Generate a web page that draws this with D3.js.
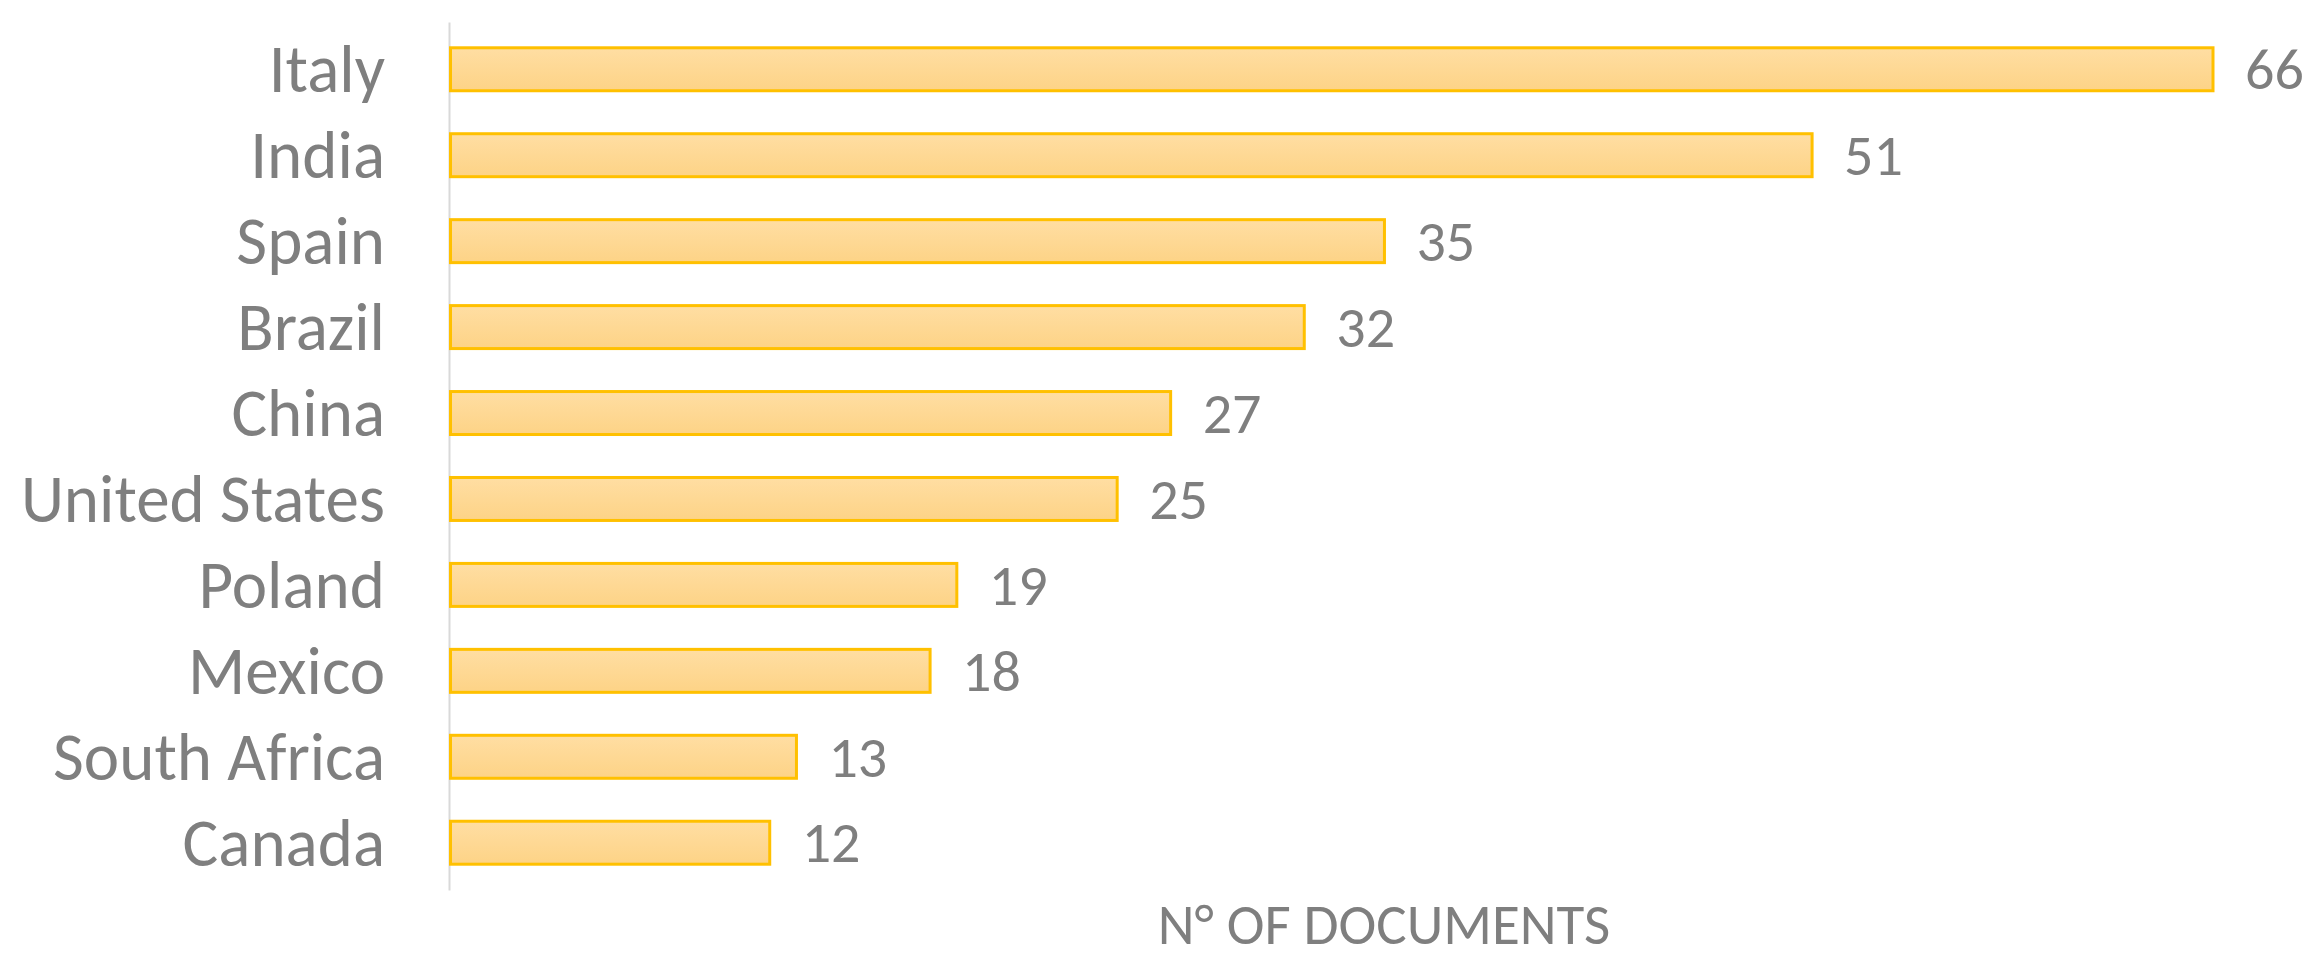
<!DOCTYPE html>
<html>
<head>
<meta charset="utf-8">
<script src="https://cdn.jsdelivr.net/npm/d3@7"></script>
<style>
  body { margin: 0; background: #fff; }
  text { font-family: Carlito, "Liberation Sans Narrow", "Open Sans", sans-serif; fill: #7f7f7f; }
</style>
</head>
<body>
<svg width="2324" height="959"></svg>
<script>
const countries = ['Italy', 'India', 'Spain', 'Brazil', 'China', 'United States', 'Poland', 'Mexico', 'South Africa', 'Canada']
const documents = [66, 51, 35, 32, 27, 25, 19, 18, 13, 12]
const axisTitle = 'N° OF DOCUMENTS'

const data = countries.map((c, i) => ({ country: c, value: documents[i] }))

const svg = d3.select('svg')

const x = d3.scaleLinear().domain([0, 66]).range([449, 2213])
const y = d3.scaleBand().domain(countries).range([22, 890])
  .paddingInner(0.5).paddingOuter(0.3)

const defs = svg.append('defs')
const grad = defs.append('linearGradient').attr('id', 'barFill')
  .attr('x1', 0).attr('y1', 0).attr('x2', 0).attr('y2', 1)
grad.append('stop').attr('offset', '0%').attr('stop-color', '#ffdea3')
grad.append('stop').attr('offset', '100%').attr('stop-color', '#fdd386')

// category axis
const yAxis = svg.append('g')
  .attr('transform', `translate(${x(0)},0)`)
  .call(d3.axisLeft(y).tickSize(0).tickPadding(64).tickSizeOuter(0))
yAxis.select('.domain').attr('stroke', '#d9d9d9').attr('stroke-width', 2)
yAxis.selectAll('text')
  .attr('font-size', 67)
  .attr('dy', '0.34em')
  .attr('font-family', null)

svg.append('g').selectAll('rect')
  .data(data).enter().append('rect')
  .attr('x', x(0) + 1.5)
  .attr('y', d => y(d.country))
  .attr('width', d => x(d.value) - x(0) - 1.5)
  .attr('height', y.bandwidth())
  .attr('fill', 'url(#barFill)')
  .attr('stroke', '#ffc000')
  .attr('stroke-width', 3)

svg.append('g').selectAll('text')
  .data(data).enter().append('text')
  .attr('x', d => x(d.value) + 32)
  .attr('y', d => y(d.country) + y.bandwidth() / 2)
  .attr('dy', '0.34em')
  .attr('font-size', 58)
  .text(d => d.value)

svg.append('text')
  .attr('x', 1384)
  .attr('y', 944)
  .attr('text-anchor', 'middle')
  .attr('font-size', 57)
  .text(axisTitle)
</script>
</body>
</html>
